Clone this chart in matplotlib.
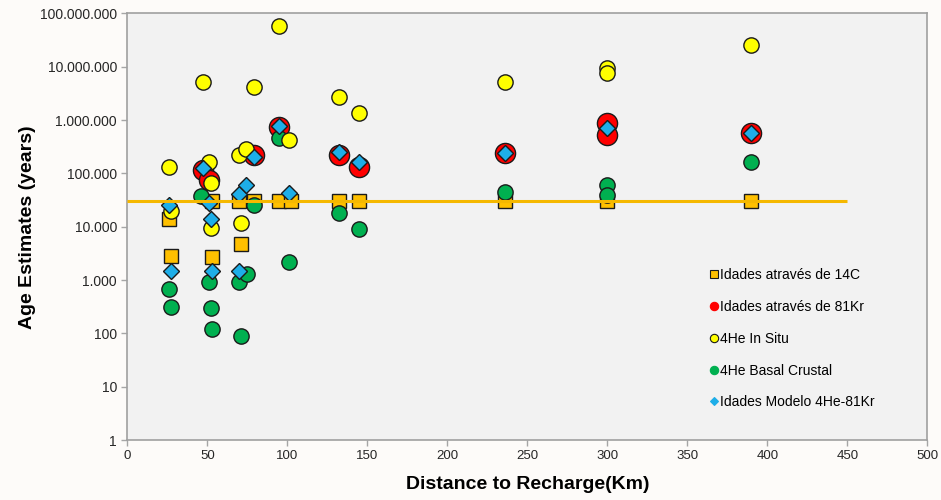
import matplotlib
matplotlib.use("Agg")
import matplotlib.pyplot as plt
from matplotlib.lines import Line2D
from matplotlib.ticker import FixedLocator, NullLocator

plt.rcParams["font.family"] = ["Liberation Sans", "DejaVu Sans"]

# Idades através de 14C (quadrados)
c14_km = [26, 27, 53, 53, 70, 71, 79, 95, 102, 132, 145, 236, 300, 390]
c14_age = [14000, 2800, 30000, 2700, 30000, 4800, 30000, 30000, 30000, 30000, 30000, 30000, 30000, 30000]

# Idades através de 81Kr (vermelho)
kr_km = [47, 51, 79, 95, 132, 145, 236, 300, 300, 390]
kr_age = [115000, 75000, 220000, 750000, 220000, 130000, 245000, 890000, 525000, 565000]

# 4He In Situ (amarelo)
insitu_km = [26, 27, 47, 51, 52, 52, 70, 71, 74, 79, 95, 101, 132, 145, 236, 300, 300, 390]
insitu_age = [130000, 20000, 5200000, 160000, 67000, 9300, 220000, 11900, 285000, 4100000,
              58000000, 430000, 2750000, 1350000, 5250000, 9300000, 7600000, 26000000]

# 4He Basal Crustal (verde)
basal_km = [26, 27, 46, 51, 52, 53, 70, 71, 75, 79, 95, 101, 132, 145, 236, 300, 300, 390]
basal_age = [670, 316, 37700, 910, 300, 120, 930, 89, 1280, 26000,
             455000, 2150, 18000, 8900, 45000, 60000, 39000, 166000]

# Idades Modelo 4He-81Kr (losangos)
model_km = [26, 27, 47, 51, 52, 53, 70, 70, 74, 79, 95, 101, 132, 145, 236, 300, 390]
model_age = [25600, 1500, 125000, 27500, 14000, 1500, 41000, 1500, 60000, 200000,
             780000, 43500, 250000, 166000, 245000, 720000, 565000]

# linha de referência
ref_km = [0, 450]
ref_age = [30000, 30000]

y_ticks = [1, 10, 100, 1000, 10000, 100000, 1000000, 10000000, 100000000]
x_ticks = list(range(0, 501, 50))

fig = plt.figure(figsize=(9.41, 5.0), dpi=100, facecolor="#fdfbf9")
ax = fig.add_axes([0.1353, 0.12, 0.8501, 0.8532])
ax.set_facecolor("#f2f2f2")

ec = "#1a1a1a"
ax.plot(c14_km, c14_age, ls="none", marker="s", ms=10.5, mfc="#ffc000", mec=ec, mew=1.0, zorder=3)
ax.plot(kr_km, kr_age, ls="none", marker="o", ms=14.5, mfc="#ff0000", mec=ec, mew=1.0, zorder=4)
ax.plot(basal_km, basal_age, ls="none", marker="o", ms=11, mfc="#00b050", mec=ec, mew=1.0, zorder=5)
ax.plot(insitu_km, insitu_age, ls="none", marker="o", ms=11, mfc="#ffff00", mec=ec, mew=1.0, zorder=6)
ax.plot(model_km, model_age, ls="none", marker="D", ms=8.6, mfc="#1eaee8", mec=ec, mew=1.0, zorder=7)
ax.plot(ref_km, ref_age, color="#f5b800", lw=2.2, zorder=8, solid_capstyle="butt")

ax.set_yscale("log")
ax.set_ylim(1, 100000000)
ax.set_xlim(0, 500)
ax.yaxis.set_major_locator(FixedLocator(y_ticks))
ax.yaxis.set_minor_locator(NullLocator())
ax.set_yticklabels([f"{v:,}".replace(",", ".") for v in y_ticks], fontsize=10, color="#262626")
ax.set_xticks(x_ticks)
ax.set_xticklabels([str(v) for v in x_ticks], fontsize=9.5, color="#262626")
ax.tick_params(axis="both", direction="out", length=4, color="#a6a6a6", width=1)

for s in ax.spines.values():
    s.set_color("#a0a0a0")
    s.set_linewidth(1.2)

ax.set_xlabel("Distance to Recharge(Km)", fontsize=14, fontweight="bold", labelpad=10)
ax.set_ylabel("Age Estimates (years)", fontsize=14, fontweight="bold", labelpad=3)

handles = [
    Line2D([], [], ls="none", marker="s", ms=5.5, mfc="#ffc000", mec=ec, mew=0.8),
    Line2D([], [], ls="none", marker="o", ms=6, mfc="#ff0000", mec="#ff0000", mew=0.8),
    Line2D([], [], ls="none", marker="o", ms=6, mfc="#ffff00", mec=ec, mew=0.8),
    Line2D([], [], ls="none", marker="o", ms=6, mfc="#00b050", mec="#00b050", mew=0.8),
    Line2D([], [], ls="none", marker="D", ms=4.5, mfc="#1eaee8", mec="#1eaee8", mew=0.8),
]
labels = ["Idades através de 14C", "Idades através de 81Kr", "4He In Situ",
          "4He Basal Crustal", "Idades Modelo 4He-81Kr"]
ax.legend(handles, labels, loc="upper left", bbox_to_anchor=(0.72, 0.419),
          frameon=False, fontsize=10, handlelength=0.6, handletextpad=0.1,
          labelspacing=1.28, borderpad=0)

fig.savefig("out.png", dpi=100, facecolor=fig.get_facecolor())
